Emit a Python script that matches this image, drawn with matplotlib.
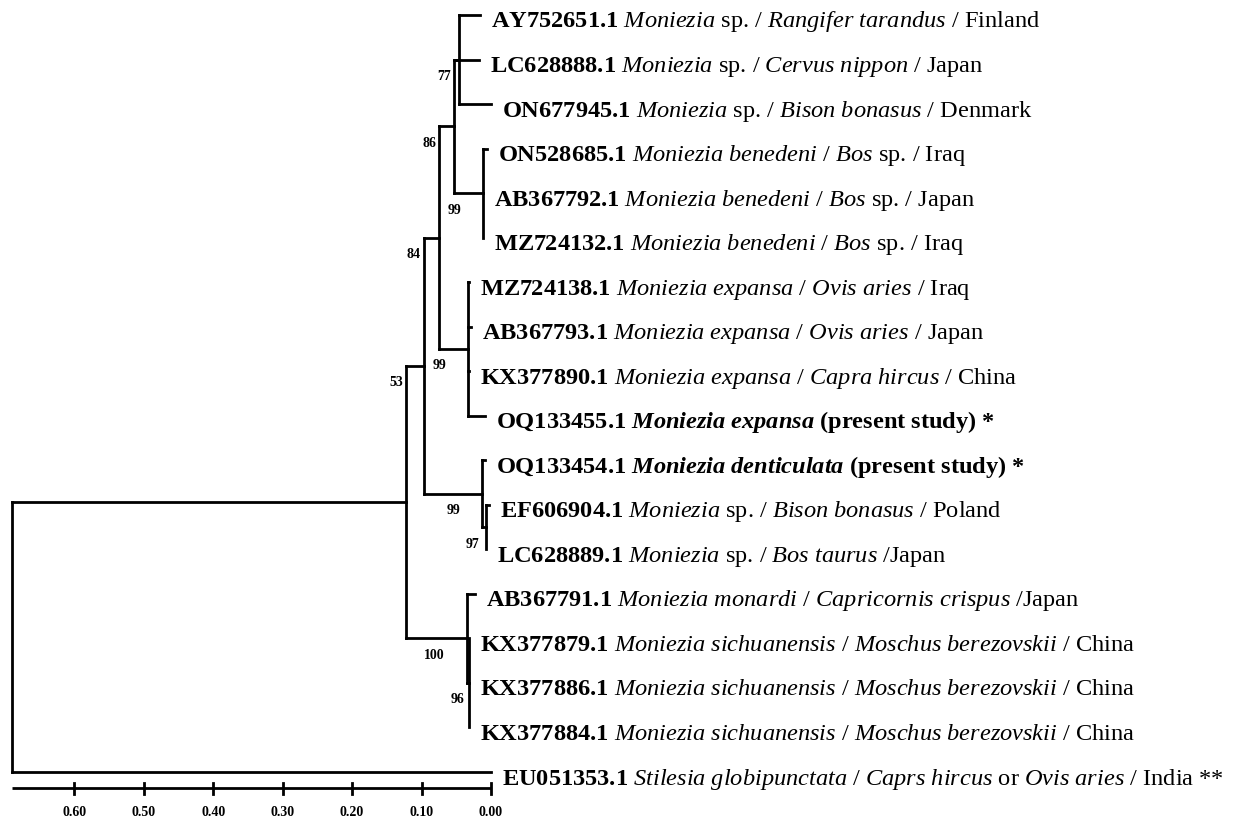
import matplotlib
matplotlib.use("Agg")
import matplotlib.pyplot as plt
from matplotlib.collections import LineCollection

plt.rcParams['font.family'] = ['Liberation Serif', 'DejaVu Serif']
plt.rcParams['mathtext.fontset'] = 'custom'
plt.rcParams['mathtext.rm'] = 'Liberation Serif'
plt.rcParams['mathtext.it'] = 'Liberation Serif:italic'
plt.rcParams['mathtext.bf'] = 'Liberation Serif:bold'
plt.rcParams['mathtext.bfit'] = 'Liberation Serif:italic:bold'

# --- data: tips (top to bottom) ---
accessions = ["AY752651.1", "LC628888.1", "ON677945.1", "ON528685.1", "AB367792.1",
              "MZ724132.1", "MZ724138.1", "AB367793.1", "KX377890.1", "OQ133455.1",
              "OQ133454.1", "EF606904.1", "LC628889.1", "AB367791.1", "KX377879.1",
              "KX377886.1", "KX377884.1", "EU051353.1"]
taxa = ["Moniezia sp.", "Moniezia sp.", "Moniezia sp.", "Moniezia benedeni", "Moniezia benedeni",
        "Moniezia benedeni", "Moniezia expansa", "Moniezia expansa", "Moniezia expansa",
        "Moniezia expansa", "Moniezia denticulata", "Moniezia sp.", "Moniezia sp.",
        "Moniezia monardi", "Moniezia sichuanensis", "Moniezia sichuanensis",
        "Moniezia sichuanensis", "Stilesia globipunctata"]
hosts = ["Rangifer tarandus", "Cervus nippon", "Bison bonasus", "Bos sp.", "Bos sp.", "Bos sp.",
         "Ovis aries", "Ovis aries", "Capra hircus", None, None, "Bison bonasus", "Bos taurus",
         "Capricornis crispus", "Moschus berezovskii", "Moschus berezovskii",
         "Moschus berezovskii", "Caprs hircus or Ovis aries"]
countries = ["/ Finland", "/ Japan", "/ Denmark", "/ Iraq", "/ Japan", "/ Iraq", "/ Iraq",
             "/ Japan", "/ China", "(present study) *", "(present study) *", "/ Poland",
             "/Japan", "/Japan", "/ China", "/ China", "/ China", "/ India **"]
# tip heights (distance units)
tip_heights = [0.0159, 0.0173, 0.0, 0.0058, 0.0115, 0.0115, 0.0317, 0.0288, 0.0317, 0.0086,
               0.0086, 0.0029, 0.0072, 0.0230, 0.0317, 0.0317, 0.0317, 0.0]

# --- data: internal nodes ---
node_heights = [0.690, 0.1224, 0.0965, 0.0749, 0.0530, 0.0525, 0.0456, 0.0115, 0.0331,
                0.0130, 0.0072, 0.0346, 0.0317]
node_support = [None, None, 53, 84, 86, 77, None, 99, 99, 99, 97, 100, 96]
node_children = [
    [1, "EU051353.1"],
    [2, 11],
    [3, 9],
    [4, 8],
    [5, 7],
    [6, "LC628888.1"],
    ["AY752651.1", "ON677945.1"],
    ["ON528685.1", "AB367792.1", "MZ724132.1"],
    ["MZ724138.1", "AB367793.1", "KX377890.1", "OQ133455.1"],
    ["OQ133454.1", 10],
    ["EF606904.1", "LC628889.1"],
    ["AB367791.1", 12],
    ["KX377879.1", "KX377886.1", "KX377884.1"],
]
scale_ticks = [0.0, 0.1, 0.2, 0.3, 0.4, 0.5, 0.6]

# --- layout ---
PX = 694.5          # pixels per distance unit
ROW = 44.53         # pixels per row
fig = plt.figure(figsize=(12.34, 8.19), dpi=100)
ax = fig.add_axes([0, 0, 1, 1])
ax.set_xlim(491 / PX, (491 - 1234) / PX)
ax.set_ylim((819 - 15) / ROW, -15 / ROW)
ax.axis('off')

lw = 2.0
row_of = {a: i for i, a in enumerate(accessions)}


def pos(c):
    if isinstance(c, str):
        i = row_of[c]
        return tip_heights[i], float(i)
    return node_heights[c], node_y(c)


def node_y(n):
    ys = [pos(c)[1] for c in node_children[n]]
    return (min(ys) + max(ys)) / 2


segs = []
parent_h = {}
for n, kids in enumerate(node_children):
    h = node_heights[n]
    ys = [pos(c)[1] for c in kids]
    segs.append([(h, min(ys)), (h, max(ys))])
    for c in kids:
        ch, cy = pos(c)
        segs.append([(h, cy), (ch, cy)])
        if not isinstance(c, str):
            parent_h[c] = h

ax.add_collection(LineCollection(segs, colors='black', linewidths=lw, capstyle='projecting'))

# bootstrap values
for n, s in enumerate(node_support):
    if s is None:
        continue
    h = node_heights[n]
    right = min(h + 22 / PX, parent_h[n] + 3 / PX)
    ax.text(right, node_y(n) + 17 / ROW, str(s), ha='right', va='center',
            fontsize=10, fontweight='bold')


def ital(s):
    out = []
    for part in s.split(" or "):
        w = part.split(" ")
        if w[-1] == "sp.":
            out.append(r"$\mathit{%s}$ sp." % r"\ ".join(w[:-1]))
        else:
            out.append(r"$\mathit{%s}$" % r"\ ".join(w))
    return " or ".join(out)


# tip labels
for i, acc in enumerate(accessions):
    if hosts[i] is None:
        label = r"$\mathbf{%s}$ $\mathbfit{%s}$ %s" % (acc, taxa[i].replace(" ", r"\ "), countries[i])
        weight = 'bold'
    else:
        label = r"$\mathbf{%s}$ %s / %s %s" % (acc, ital(taxa[i]), ital(hosts[i]), countries[i])
        weight = 'normal'
    ax.text(tip_heights[i] - 11 / PX, i + 12.5 / ROW, label, ha='left', va='baseline',
            fontsize=17.6, fontweight=weight)

# scale bar
y_bar = (788 - 15) / ROW
tick = 5.5 / ROW
ax.plot([node_heights[0], 0], [y_bar, y_bar], color='black', lw=lw, solid_capstyle='butt')
for t in scale_ticks:
    ax.plot([t, t], [y_bar - tick, y_bar + tick], color='black', lw=lw)
    ax.text(t, (812 - 15) / ROW, "%.2f" % t, ha='center', va='center', fontsize=10,
            fontweight='bold')

fig.savefig("out.png", dpi=100)
